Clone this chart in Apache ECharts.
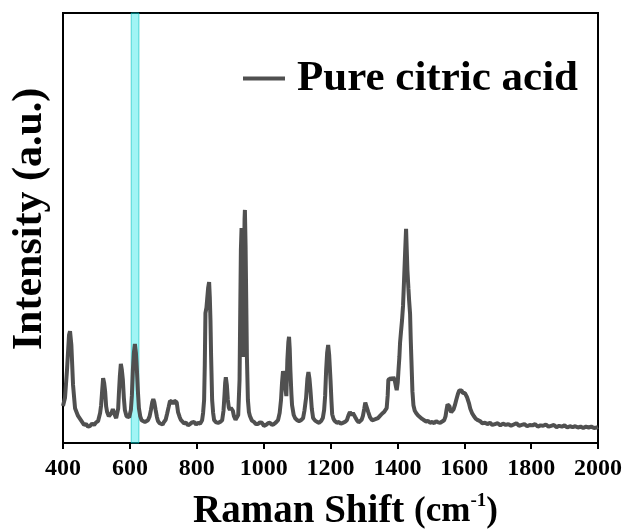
<!DOCTYPE html>
<html>
<head>
<meta charset="utf-8">
<script src="https://cdn.jsdelivr.net/npm/echarts@6/dist/echarts.min.js"></script>
<style>
  html, body { margin: 0; padding: 0; background: #fff; }
  #chart { width: 629px; height: 531px; }
</style>
</head>
<body>
<div id="chart"></div>
<script>
// Raman spectrum of pure citric acid (a.u.)
const ramanShift = [
  400, 406, 412, 418, 421, 425, 430, 436, 445, 457, 463, 469, 475, 481, 487, 493, 499, 505,
  511, 514, 517, 520, 523, 526, 529, 532, 537, 541, 545, 549, 553, 556, 559, 562, 565, 567,
  570, 573, 576, 579, 582, 585, 590, 594, 598, 603, 606, 609, 612, 615, 618, 621, 624, 627,
  631, 635, 640, 645, 650, 654, 659, 663, 667, 670, 673, 677, 681, 684, 689, 693, 698, 702,
  707, 711, 716, 720, 723, 726, 729, 733, 737, 740, 744, 749, 753, 756, 762, 768, 774, 780,
  786, 792, 798, 804, 810, 816, 819, 822, 824, 826, 829, 831, 834, 837, 839, 841, 843, 846,
  849, 852, 858, 864, 870, 876, 880, 883, 885, 887, 890, 893, 896, 899, 902, 905, 908, 911,
  916, 920, 924, 928, 930, 932, 934, 936, 938, 939, 941, 943, 944, 946, 948, 950, 953, 956,
  959, 965, 971, 977, 983, 989, 995, 1001, 1007, 1013, 1019, 1025, 1031, 1037, 1043, 1048,
  1052, 1055, 1058, 1061, 1064, 1068, 1071, 1074, 1076, 1078, 1080, 1083, 1085, 1090, 1094,
  1100, 1106, 1112, 1118, 1122, 1127, 1131, 1134, 1137, 1140, 1144, 1148, 1154, 1160, 1166,
  1172, 1177, 1181, 1184, 1187, 1190, 1193, 1196, 1200, 1203, 1205, 1209, 1213, 1219, 1225,
  1231, 1237, 1243, 1249, 1254, 1258, 1261, 1264, 1267, 1270, 1274, 1279, 1284, 1288, 1293,
  1297, 1301, 1304, 1306, 1309, 1313, 1318, 1324, 1330, 1336, 1342, 1348, 1354, 1360, 1365,
  1368, 1371, 1373, 1377, 1381, 1385, 1388, 1391, 1393, 1396, 1398, 1401, 1403, 1406, 1408,
  1411, 1414, 1417, 1420, 1423, 1426, 1428, 1430, 1433, 1435, 1438, 1440, 1442, 1445, 1448,
  1452, 1456, 1462, 1468, 1474, 1480, 1486, 1492, 1498, 1504, 1510, 1516, 1522, 1528, 1534,
  1540, 1544, 1547, 1550, 1553, 1556, 1558, 1561, 1564, 1568, 1572, 1576, 1581, 1585, 1589,
  1592, 1596, 1599, 1602, 1605, 1608, 1611, 1614, 1618, 1623, 1629, 1635, 1641, 1647, 1654,
  1662, 1669, 1677, 1684, 1692, 1700, 1708, 1716, 1724, 1732, 1740, 1748, 1756, 1764, 1772,
  1780, 1788, 1796, 1804, 1812, 1820, 1828, 1836, 1844, 1852, 1860, 1868, 1876, 1884, 1892,
  1900, 1908, 1916, 1924, 1932, 1940, 1948, 1956, 1964, 1972, 1980, 1988, 1996, 2000
];
const intensity = [
  8.6, 10.5, 17.0, 25.1, 26.0, 22.8, 13.5, 8.1, 6.3, 4.9, 4.2, 4.4, 3.8, 4.0, 4.5, 4.2, 4.8, 5.1,
  7.0, 8.8, 12.0, 15.1, 14.0, 12.0, 8.5, 7.2, 6.2, 6.0, 7.0, 7.9, 7.0, 6.3, 5.8, 5.8, 8.0, 11.2,
  15.5, 18.4, 17.0, 14.7, 10.5, 7.7, 6.2, 5.8, 6.0, 7.7, 11.0, 17.0, 21.0, 23.0, 21.0, 17.0, 12.0, 8.1,
  6.2, 5.3, 5.0, 4.9, 5.2, 5.3, 6.2, 7.7, 9.5, 10.2, 9.5, 7.7, 6.0, 5.1, 4.6, 4.7, 4.3, 4.9,
  5.4, 6.7, 8.4, 9.8, 10.2, 9.6, 9.1, 9.8, 10.2, 9.5, 7.2, 6.0, 5.3, 5.3, 4.6, 4.7, 4.1, 4.4,
  4.8, 4.9, 4.3, 4.7, 4.5, 5.3, 7.0, 10.0, 18.0, 30.2, 31.5, 33.3, 36.0, 37.4, 34.0, 28.6, 20.0, 10.0,
  7.0, 5.3, 4.8, 4.7, 4.9, 5.3, 7.5, 11.2, 14.0, 15.3, 13.5, 10.0, 8.2, 7.7, 8.2, 8.4, 7.5, 6.3,
  5.4, 5.1, 6.5, 14.7, 30.0, 44.9, 50.0, 40.0, 22.0, 20.0, 38.0, 52.0, 54.2, 46.0, 33.3, 20.0, 10.0, 7.2,
  6.3, 5.2, 4.9, 4.4, 4.4, 4.8, 4.7, 4.0, 4.2, 4.6, 4.7, 4.2, 4.4, 4.8, 5.3, 7.0,
  10.0, 14.0, 16.7, 15.5, 13.5, 10.9, 19.3, 23.5, 24.7, 22.0, 17.0, 11.5, 8.8, 6.5, 5.8,
  5.3, 5.1, 5.3, 5.8, 7.5, 10.5, 15.0, 16.5, 15.0, 12.3, 8.0, 5.8, 5.2, 4.9, 4.7,
  5.1, 5.8, 7.7, 11.0, 17.0, 21.0, 22.8, 20.5, 14.7, 9.5, 6.7, 5.6, 5.1, 4.7, 4.9,
  4.5, 4.7, 4.9, 5.3, 6.5, 7.2, 6.8, 6.5, 7.0, 7.0, 6.0, 5.3, 4.8, 4.9, 5.4,
  6.3, 8.0, 9.4, 9.8, 9.0, 7.2, 6.0, 5.3, 5.4, 5.6, 5.8, 6.3, 6.8, 7.2, 7.6,
  8.1, 11.0, 14.7, 15.0, 15.1, 14.6, 15.3, 14.8, 14.2, 13.0, 12.3, 14.0, 16.5, 20.0, 23.3,
  26.0, 28.6, 32.0, 37.9, 44.0, 49.8, 45.0, 40.2, 36.0, 33.3, 30.0, 24.0, 19.3, 12.0, 8.8,
  7.5, 7.0, 6.4, 6.0, 5.6, 5.3, 5.0, 5.1, 4.7, 4.9, 4.6, 5.1, 4.8, 4.7, 5.0,
  5.3, 6.2, 7.7, 9.0, 9.3, 8.5, 7.7, 7.2, 7.0, 7.8, 8.8, 10.0, 11.4, 12.2, 12.6,
  12.2, 11.6, 11.3, 11.6, 11.4, 10.7, 10.0, 9.3, 8.0, 7.0, 6.2, 5.6, 5.3, 5.1, 4.6,
  4.7, 4.4, 4.7, 4.2, 4.4, 4.6, 4.1, 4.5, 4.2, 4.4, 4.0, 4.3, 4.6, 4.0, 4.2,
  4.4, 3.9, 4.2, 4.1, 4.4, 3.8, 4.1, 4.0, 4.3, 3.8, 4.0, 4.2, 3.7, 4.0, 3.8,
  4.1, 3.6, 3.9, 3.7, 3.9, 3.6, 3.8, 3.5, 3.8, 3.6, 3.8, 3.5, 3.6, 3.7
];
// highlighted band (cm-1)
const bandRange = [604, 627];
const xTicks = { min: 400, max: 2000, step: 200 };
const seriesName = 'Pure citric acid';

const font = 'Liberation Serif, Times New Roman, serif';
const spectrum = ramanShift.map((x, i) => [x, intensity[i]]);

const chart = echarts.init(document.getElementById('chart'));
chart.setOption({
  animation: false,
  grid: {
    left: 63, right: 31, top: 13, bottom: 88,
    outerBoundsMode: 'none',
    containLabel: false,
    show: true, borderColor: '#000', borderWidth: 2, backgroundColor: 'transparent'
  },
  legend: {
    data: [seriesName],
    left: 238, top: 52,
    itemWidth: 42, itemHeight: 4, itemGap: 12,
    icon: 'rect',
    textStyle: { fontFamily: font, fontWeight: 'bold', fontSize: 43, color: '#000', padding: [0, 0, 0, 7] }
  },
  xAxis: {
    type: 'value',
    min: xTicks.min, max: xTicks.max, interval: xTicks.step,
    splitLine: { show: false },
    axisLine: { show: true, lineStyle: { color: '#000', width: 2 } },
    axisTick: { show: true, inside: false, length: 6, lineStyle: { color: '#000', width: 2 } },
    axisLabel: {
      fontFamily: font, fontWeight: 'bold', fontSize: 24, color: '#000', margin: 14,
      formatter: v => String(v)
    },
    name: '{a|Raman Shift }{b|(cm}{c|-1}{b|)}',
    nameLocation: 'middle',
    nameGap: 49,
    nameTextStyle: {
      padding: [0, 0, 0, 30],
      rich: {
        a: { fontFamily: font, fontWeight: 'bold', fontSize: 39, color: '#000' },
        b: { fontFamily: font, fontWeight: 'bold', fontSize: 35, color: '#000' },
        c: { fontFamily: font, fontWeight: 'bold', fontSize: 19, color: '#000', verticalAlign: 'top', padding: [0, 0, 16, 0] }
      }
    }
  },
  yAxis: {
    type: 'value',
    min: 0, max: 100,
    splitLine: { show: false },
    axisLine: { show: true, lineStyle: { color: '#000', width: 2 } },
    axisTick: { show: false },
    axisLabel: { show: false },
    name: 'Intensity (a.u.)',
    nameLocation: 'middle',
    nameGap: 12,
    nameTextStyle: { fontFamily: font, fontWeight: 'bold', fontSize: 42, color: '#000', padding: [0, 0, 0, 18] }
  },
  series: [
    {
      name: seriesName,
      type: 'line',
      data: spectrum,
      symbol: 'none',
      color: '#505050',
      lineStyle: { color: '#505050', width: 4 },
      z: 2
    },
    {
      name: 'band',
      type: 'line',
      data: [],
      symbol: 'none',
      silent: true,
      z: 5,
      markArea: {
        silent: true,
        itemStyle: { color: 'rgba(0,228,228,0.37)', borderColor: 'rgba(0,190,190,0.6)', borderWidth: 1 },
        data: [[{ xAxis: bandRange[0] }, { xAxis: bandRange[1] }]]
      }
    }
  ]
});
</script>
</body>
</html>
